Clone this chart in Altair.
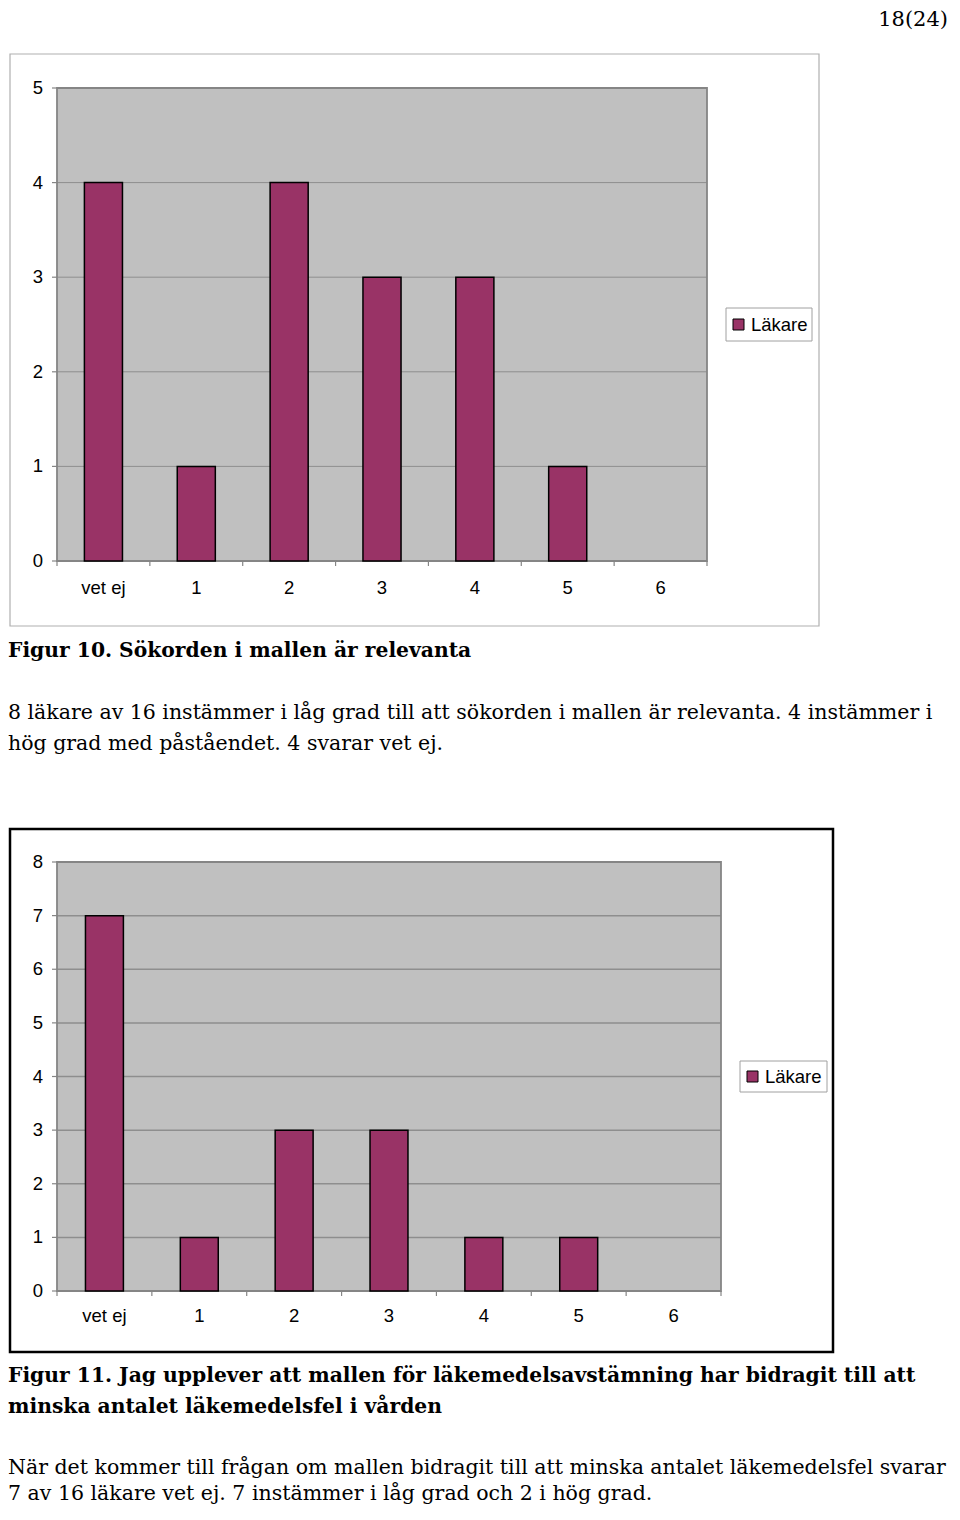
import altair as alt
import pandas as pd

# ---------------- data ----------------
categories = ["vet ej", "1", "2", "3", "4", "5", "6"]
fig10_values = [4, 1, 4, 3, 3, 1, 0]
fig11_values = [7, 1, 3, 3, 1, 1, 0]
fig10_yticks = [0, 1, 2, 3, 4, 5]
fig11_yticks = [0, 1, 2, 3, 4, 5, 6, 7, 8]
series_name = "Läkare"

page_number = "18(24)"
caption10 = ["Figur 10. Sökorden i mallen är relevanta"]
body10 = [
    "8 läkare av 16 instämmer i låg grad till att sökorden i mallen är relevanta. 4 instämmer i",
    "hög grad med påståendet. 4 svarar vet ej.",
]
caption11 = [
    "Figur 11. Jag upplever att mallen för läkemedelsavstämning har bidragit till att",
    "minska antalet läkemedelsfel i vården",
]
body11 = [
    "När det kommer till frågan om mallen bidragit till att minska antalet läkemedelsfel svarar",
    "7 av 16 läkare vet ej. 7 instämmer i låg grad och 2 i hög grad.",
]

# ---------------- layout / style ----------------
W, H = 944, 1500
OX, OY = 8, 8          # page position of the chart origin
BAR = "#993366"
PLOT_BG = "#c0c0c0"
GRID = "#8e8e8e"
SANS = "Liberation Sans"
SERIF = "DejaVu Serif"
LABEL_SIZE = 18.5
TEXT_SIZE = 20.5
BOLD_SIZE = 20.3

ONE = alt.Data(values=[{"k": 0}])


def px(x):
    return x - OX


def py(y):
    return y - OY


def box(x0, y0, x1, y1, **mark):
    return alt.Chart(ONE).mark_rect(**mark).encode(
        x=alt.value(x0), x2=alt.value(x1), y=alt.value(y0), y2=alt.value(y1)
    )


def text_line(s, x, y, **mark):
    return alt.Chart(alt.Data(values=[{"t": s}])).mark_text(**mark).encode(
        x=alt.value(x), y=alt.value(y), text="t:N"
    )


def panel(values, yticks, frame, plot, legend, xlab_y, frame_color, frame_width, pad_inner, grid_w):
    x0, y0, x1, y1 = plot
    n = len(categories)
    df = pd.DataFrame({"cat": categories, "value": values})
    tdf = pd.DataFrame({"v": yticks})
    bdf = pd.DataFrame({"b": list(range(n + 1))})
    yscale = alt.Scale(domain=[yticks[0], yticks[-1]], range=[y1, y0], nice=False, zero=True)
    xband = alt.Scale(domain=categories, range=[x0, x1],
                      paddingInner=pad_inner, paddingOuter=pad_inner / 2)
    bscale = alt.Scale(domain=[0, n], range=[x0, x1], nice=False, zero=False)

    layers = []
    layers.append(box(*frame, fill="white", stroke=frame_color, strokeWidth=frame_width))
    layers.append(box(x0, y0, x1, y1, fill=PLOT_BG, stroke=PLOT_BG, strokeWidth=0))
    layers.append(alt.Chart(tdf).mark_rule(color=GRID, strokeWidth=grid_w).encode(
        y=alt.Y("v:Q", scale=yscale, axis=None), x=alt.value(x0), x2=alt.value(x1)))
    layers.append(box(x0, y0, x1, y1, fill=None, fillOpacity=0, stroke="#858585", strokeWidth=1.8))
    layers.append(alt.Chart(tdf).mark_rule(color="#858585", strokeWidth=1.2).encode(
        y=alt.Y("v:Q", scale=yscale, axis=None), x=alt.value(x0 - 5), x2=alt.value(x0)))
    layers.append(alt.Chart(tdf).mark_text(align="right", baseline="middle", font=SANS,
                                          fontSize=LABEL_SIZE, color="black").encode(
        y=alt.Y("v:Q", scale=yscale, axis=None), x=alt.value(x0 - 14), text="v:Q"))
    layers.append(alt.Chart(df).transform_filter("datum.value > 0").mark_bar(
        color=BAR, stroke="black", strokeWidth=1.5).encode(
        x=alt.X("cat:N", scale=xband, sort=categories, axis=None),
        y=alt.Y("value:Q", scale=yscale, axis=None)))
    layers.append(alt.Chart(bdf).mark_rule(color="#858585", strokeWidth=1.2).encode(
        x=alt.X("b:Q", scale=bscale, axis=None), y=alt.value(y1), y2=alt.value(y1 + 5)))
    layers.append(alt.Chart(df).mark_text(baseline="middle", font=SANS, fontSize=LABEL_SIZE,
                                          color="black").encode(
        x=alt.X("cat:N", scale=xband, sort=categories, axis=None),
        y=alt.value(xlab_y), text="cat:N"))
    lx0, ly0, lx1, ly1 = legend
    layers.append(box(lx0, ly0, lx1, ly1, fill="white", stroke="#a0a0a0", strokeWidth=1))
    cy = (ly0 + ly1) / 2
    layers.append(box(lx0 + 7, cy - 5.5, lx0 + 18, cy + 5.5, fill=BAR, stroke="black", strokeWidth=1))
    layers.append(text_line(series_name, lx0 + 25, cy, align="left", baseline="middle",
                            font=SANS, fontSize=LABEL_SIZE, color="black"))
    return layers


def para(lines, ys, bold=False):
    out = []
    for s, y in zip(lines, ys):
        kw = dict(align="left", baseline="middle", font=SERIF,
                  fontSize=BOLD_SIZE if bold else TEXT_SIZE, color="black")
        if bold:
            kw["fontWeight"] = "bold"
        out.append(text_line(s, 0, py(y), **kw))
    return out


layers = []
layers.append(text_line(page_number, W - 4, 12, align="right", baseline="middle",
                        font=SERIF, fontSize=21, color="black"))

layers += panel(fig10_values, fig10_yticks,
                frame=(px(10), py(54), px(819), py(626)),
                plot=(px(57), py(88), px(707), py(561)),
                legend=(px(726), py(308), px(812), py(341)),
                xlab_y=py(588), frame_color="#b0b0b0", frame_width=1.2, pad_inner=0.59, grid_w=1.0)

layers += para(caption10, [651], bold=True)
layers += para(body10, [713, 744])

layers += panel(fig11_values, fig11_yticks,
                frame=(px(10), py(829), px(833), py(1352)),
                plot=(px(57), py(862), px(721), py(1291)),
                legend=(px(740), py(1061), px(827), py(1092)),
                xlab_y=py(1316), frame_color="black", frame_width=2.5, pad_inner=0.6, grid_w=1.5)

layers += para(caption11, [1376, 1407], bold=True)
layers += para(body11, [1468, 1494])

chart = alt.layer(*layers).resolve_scale(x="independent", y="independent").properties(
    width=W, height=H, padding=0, autosize=alt.AutoSizeParams(type="none")
).configure_view(strokeWidth=0)

chart.save("out.html", embed_options={"renderer": "svg", "actions": False})
